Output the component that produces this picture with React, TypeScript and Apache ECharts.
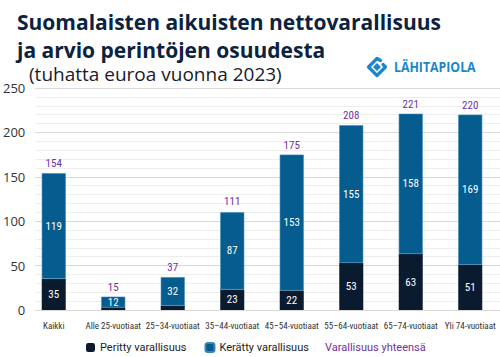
import React, { useEffect, useRef } from "react";
import * as echarts from "echarts";

const categories = [
  "Kaikki",
  "Alle 25-vuotiaat",
  "25–34-vuotiaat",
  "35–44-vuotiaat",
  "45–54-vuotiaat",
  "55–64-vuotiaat",
  "65–74-vuotiaat",
  "Yli 74-vuotiaat",
];
const inherited = [35, 3, 5, 23, 22, 53, 63, 51];
const accumulated = [119, 12, 32, 87, 153, 155, 158, 169];
const totals = [154, 15, 37, 111, 175, 208, 221, 220];
const yTicks = { min: 0, max: 250, interval: 50 };

const seriesNames = ["Peritty varallisuus", "Kerätty varallisuus", "Varallisuus yhteensä"];

const DARK = "#0b1b2f";
const BLUE = "#055c8e";
const PURPLE = "#7030a0";
const NARROW = "'Roboto Condensed', 'Arial Narrow', 'Liberation Sans Narrow', 'DejaVu Sans Condensed', 'Liberation Serif', serif";
const SANS = "'Open Sans', 'Noto Sans', sans-serif";

export default function App() {
  const ref = useRef<HTMLDivElement>(null);
  useEffect(() => {
    if (!ref.current) return;
    const chart = echarts.init(ref.current, null, { renderer: "svg" });
    const option: any = {
      animation: false,
      backgroundColor: "#ffffff",
      grid: [
        { left: 24, width: 482, top: 88, bottom: 47 },
        { left: 33, right: 0, top: 88, bottom: 47 },
      ],
      xAxis: [
        {
          type: "category",
          gridIndex: 0,
          data: categories,
          axisLine: { show: false },
          axisTick: { show: false },
          axisLabel: {
            interval: 0,
            margin: 11,
            fontSize: 9,
            color: "#333",
            fontFamily: NARROW,
          },
        },
        { type: "value", gridIndex: 1, show: false, min: 0, max: 1 },
      ],
      yAxis: [
        {
          type: "value",
          gridIndex: 0,
          min: yTicks.min,
          max: yTicks.max,
          interval: yTicks.interval,
          show: false,
        },
        {
          type: "value",
          gridIndex: 1,
          min: yTicks.min,
          max: yTicks.max,
          interval: yTicks.interval,
          axisLine: { show: false },
          axisTick: { show: false },
          axisLabel: { margin: 10, fontSize: 13, color: "#333", fontFamily: SANS },
          splitLine: { show: true, lineStyle: { color: "#d9d9d9", width: 1 } },
          minorTick: { show: false, splitNumber: 5 },
          minorSplitLine: { show: true, lineStyle: { color: "#eeeeee", width: 1 } },
        },
      ],
      legend: [
        {
          data: [seriesNames[0], seriesNames[1]],
          left: 86,
          top: 342,
          padding: 0,
          itemWidth: 9,
          itemHeight: 9,
          itemGap: 18,
          textStyle: { fontSize: 11, color: "#222", fontFamily: "Roboto, sans-serif" },
        },
        {
          data: [{ name: seriesNames[2], icon: "none" }],
          left: 320,
          top: 342,
          padding: 0,
          itemWidth: 0,
          itemHeight: 9,
          textStyle: { fontSize: 11, color: PURPLE, fontFamily: "Roboto, sans-serif" },
        },
      ],
      series: [
        {
          name: seriesNames[0],
          type: "bar",
          stack: "w",
          xAxisIndex: 0,
          yAxisIndex: 0,
          barWidth: 24,
          data: inherited,
          itemStyle: { color: DARK },
          label: {
            show: true,
            position: "inside",
            color: "#fff",
            fontSize: 11,
            fontFamily: NARROW,
            formatter: (p: any) => (p.value >= 10 ? String(p.value) : ""),
          },
        },
        {
          name: seriesNames[1],
          type: "bar",
          stack: "w",
          xAxisIndex: 0,
          yAxisIndex: 0,
          barWidth: 24,
          data: accumulated,
          itemStyle: { color: BLUE, borderColor: "#3b86b8", borderWidth: 0.6 },
          label: {
            show: true,
            position: "inside",
            color: "#fff",
            fontSize: 11,
            fontFamily: NARROW,
          },
        },
        {
          name: seriesNames[2],
          type: "line",
          xAxisIndex: 0,
          yAxisIndex: 0,
          data: totals,
          symbol: "circle",
          symbolSize: 0.1,
          lineStyle: { opacity: 0, width: 0 },
          itemStyle: { color: "rgba(0,0,0,0)" },
          label: {
            show: true,
            position: "top",
            distance: 4,
            color: PURPLE,
            fontSize: 11,
            fontFamily: NARROW,
          },
          z: 5,
        },
      ],
      graphic: [
        {
          type: "text",
          left: 17,
          top: 11,
          style: {
            text: "Suomalaisten aikuisten nettovarallisuus",
            fontSize: 21,
            fontWeight: "bold",
            fontFamily: SANS,
            fill: "#0c2340",
          },
        },
        {
          type: "text",
          left: 17,
          top: 39,
          style: {
            text: "ja arvio perintöjen osuudesta",
            fontSize: 21,
            lineHeight: 22,
            fontWeight: "bold",
            fontFamily: SANS,
            fill: "#0c2340",
          },
        },
        {
          type: "text",
          left: 29,
          top: 64,
          style: {
            text: "(tuhatta euroa vuonna 2023)",
            fontSize: 19,
            lineHeight: 20,
            fontFamily: SANS,
            fill: "#1a1a2a",
          },
        },
        {
          type: "group",
          x: 367,
          y: 57,
          children: [
            {
              type: "polyline",
              shape: { points: [[13.5, 3.5], [10, 1.5], [1.5, 10], [10, 18.5], [18.5, 10], [16, 7.5]] },
              style: { stroke: "#1b86c8", lineWidth: 3.2, fill: null, lineJoin: "round", lineCap: "round" },
            },
            {
              type: "polygon",
              shape: { points: [[10, 6], [14, 10], [10, 14], [6, 10]] },
              style: { fill: "#1b86c8" },
            },
          ],
        },
        {
          type: "text",
          x: 394,
          y: 67,
          scaleX: 0.88,
          style: {
            text: "LÄHITAPIOLA",
            fontSize: 14,
            fontWeight: "bold",
            fontFamily: SANS,
            fill: "#1b86c8",
            verticalAlign: "middle",
          },
        },
      ],
    };
    chart.setOption(option);
    return () => chart.dispose();
  }, []);
  return (
    <div
      ref={ref}
      style={{ position: "absolute", left: 0, top: 0, width: 500, height: 357 }}
    />
  );
}
